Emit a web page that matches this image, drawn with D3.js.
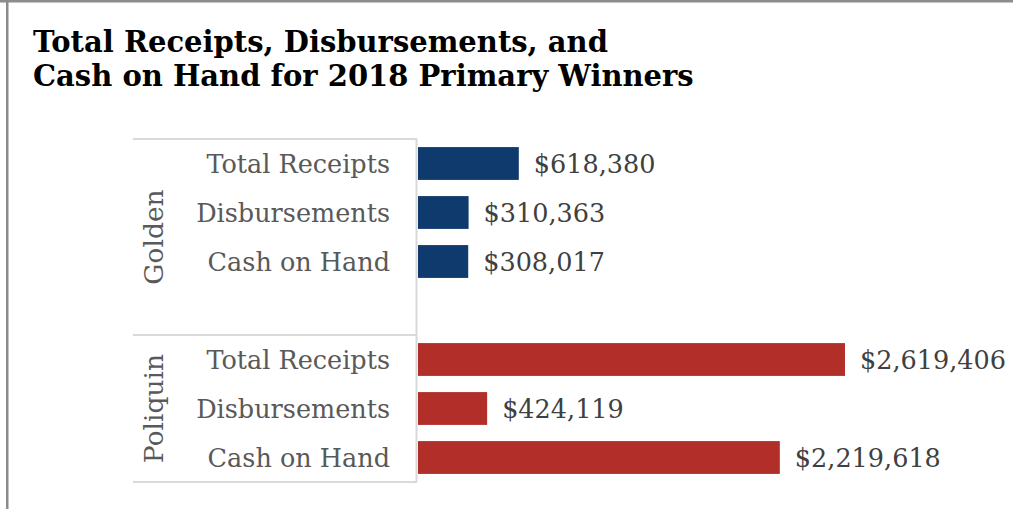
<!DOCTYPE html>
<html>
<head>
<meta charset="utf-8">
<script src="https://cdn.jsdelivr.net/npm/d3@7"></script>
<style>
  html, body { margin: 0; padding: 0; background: #fff; }
  svg { display: block; }
</style>
</head>
<body>
<svg id="chart" width="1013" height="509"></svg>
<script>
const titleLines = ["Total Receipts, Disbursements, and", "Cash on Hand for 2018 Primary Winners"];
const groups = ["Golden", "Poliquin"];
const categories = ["Total Receipts", "Disbursements", "Cash on Hand"];
const goldenValues = [618380, 310363, 308017];
const poliquinValues = [2619406, 424119, 2219618];
const groupColors = ["#0f3a6e", "#b22f29"];

const FONT = "'DejaVu Serif', 'Liberation Serif', serif";
const svg = d3.select("#chart");

// frame (top & left border)
svg.append("rect").attr("x", 0).attr("y", 0).attr("width", 1013).attr("height", 2.5).attr("fill", "#8c8c8c");
svg.append("rect").attr("x", 6).attr("y", 0).attr("width", 2.5).attr("height", 509).attr("fill", "#8c8c8c");

// title
svg.append("text")
  .attr("font-family", FONT).attr("font-weight", "bold").attr("font-size", 29).attr("fill", "#000")
  .selectAll("tspan").data(titleLines).join("tspan")
  .attr("x", 33).attr("y", (d, i) => 52 + i * 34).text(d => d);

// rows
const valuesByGroup = [goldenValues, poliquinValues];
const rows = [];
groups.forEach((g, gi) => {
  categories.forEach((c, ci) => rows.push({ key: g + "|" + c, group: g, gi, cat: c, value: valuesByGroup[gi][ci] }));
  if (gi < groups.length - 1) rows.push({ key: g + "|spacer", group: g, gi, spacer: true });
});

const y = d3.scaleBand().domain(rows.map(r => r.key)).range([139, 482]).paddingInner(0.33).paddingOuter(0.165);
const x = d3.scaleLinear().domain([0, d3.max(poliquinValues)]).range([418, 845]);

const gridColor = "#d9d9d9";
const half = (y.step() - y.bandwidth()) / 2;
const groupBounds = groups.map(g => {
  const ks = rows.filter(r => r.group === g);
  const top = y(ks[0].key) - half;
  const bottom = y(ks[ks.length - 1].key) + y.bandwidth() + half;
  return { g, top, bottom };
});

const axisG = svg.append("g");
const lineYs = [groupBounds[0].top, ...groupBounds.map(b => b.bottom)];
axisG.selectAll("line.h").data(lineYs).join("line")
  .attr("x1", 133).attr("x2", 417).attr("y1", d => d).attr("y2", d => d)
  .attr("stroke", gridColor).attr("stroke-width", 2);
axisG.append("line").attr("x1", 416.5).attr("x2", 416.5)
  .attr("y1", groupBounds[0].top).attr("y2", groupBounds[groupBounds.length - 1].bottom)
  .attr("stroke", gridColor).attr("stroke-width", 2);

// group labels
svg.selectAll("text.grp").data(groupBounds).join("text")
  .attr("class", "grp")
  .attr("transform", d => `translate(153,${(d.top + d.bottom) / 2}) rotate(-90)`)
  .attr("text-anchor", "middle").attr("dominant-baseline", "central")
  .attr("font-family", FONT).attr("font-size", 26.5).attr("fill", "#595959")
  .text(d => d.g);

const dataRows = rows.filter(r => !r.spacer);
// category labels
svg.selectAll("text.cat").data(dataRows).join("text")
  .attr("class", "cat")
  .attr("x", 390).attr("y", d => y(d.key) + y.bandwidth() / 2)
  .attr("text-anchor", "end").attr("dominant-baseline", "central")
  .attr("font-family", FONT).attr("font-size", 25.5).attr("fill", "#595959")
  .text(d => d.cat);

// bars
svg.selectAll("rect.bar").data(dataRows).join("rect")
  .attr("class", "bar")
  .attr("x", x(0)).attr("y", d => y(d.key))
  .attr("width", d => x(d.value) - x(0)).attr("height", y.bandwidth())
  .attr("fill", d => groupColors[d.gi]);

// value labels
const fmt = d3.format("$,");
svg.selectAll("text.val").data(dataRows).join("text")
  .attr("class", "val")
  .attr("x", d => x(d.value) + 15).attr("y", d => y(d.key) + y.bandwidth() / 2)
  .attr("dominant-baseline", "central")
  .attr("font-family", FONT).attr("font-size", 25.5).attr("fill", "#404040")
  .text(d => fmt(d.value));
</script>
</body>
</html>
